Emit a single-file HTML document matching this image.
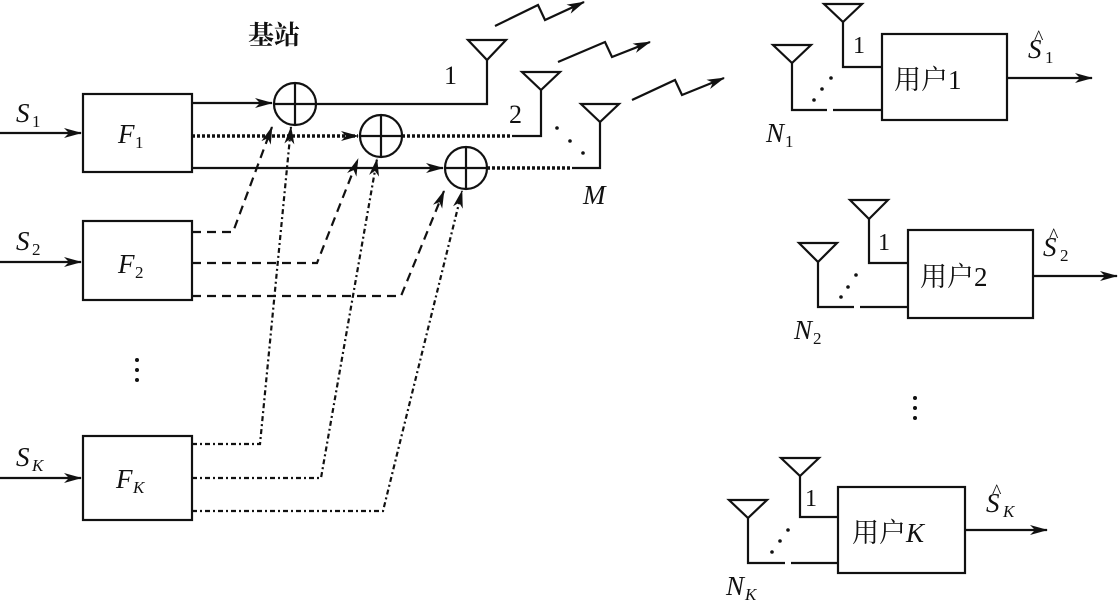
<!DOCTYPE html>
<html><head><meta charset="utf-8"><style>
body{margin:0;background:#fff}
svg{display:block}
text{font-family:"Liberation Serif","Noto Serif CJK SC",serif;fill:#111}
.i{font-style:italic}
</style></head><body>
<svg width="1119" height="603" viewBox="0 0 1119 603" xmlns="http://www.w3.org/2000/svg">
<defs>
<marker id="a" markerWidth="18" markerHeight="10" refX="17" refY="5" orient="auto" markerUnits="userSpaceOnUse">
<path d="M0,0 L18,5 L0,10 L5,5 z" fill="#111"/></marker>
</defs>
<g stroke="#111" stroke-width="2.2" fill="none">
<rect x="83" y="94" width="109" height="78"/>
<rect x="83" y="221" width="109" height="79"/>
<rect x="83" y="436" width="109" height="84"/>
<line x1="0" y1="133" x2="81" y2="133" marker-end="url(#a)"/>
<line x1="0" y1="262" x2="81" y2="262" marker-end="url(#a)"/>
<line x1="0" y1="478" x2="81" y2="478" marker-end="url(#a)"/>
<line x1="192" y1="103" x2="272" y2="103" marker-end="url(#a)"/>
<line x1="192" y1="136" x2="358" y2="136" stroke-dasharray="3,2" stroke-width="3.5" marker-end="url(#a)"/>
<line x1="192" y1="168" x2="443" y2="168" marker-end="url(#a)"/>
<circle cx="295" cy="104" r="21"/><line x1="274" y1="104" x2="316" y2="104"/><line x1="295" y1="83" x2="295" y2="125"/>
<circle cx="381" cy="136" r="21"/><line x1="360" y1="136" x2="402" y2="136"/><line x1="381" y1="115" x2="381" y2="157"/>
<circle cx="466" cy="168" r="21"/><line x1="445" y1="168" x2="487" y2="168"/><line x1="466" y1="147" x2="466" y2="189"/>
<polyline points="316,104 487,104 487,60"/>
<line x1="402" y1="136" x2="512" y2="136" stroke-dasharray="3,2" stroke-width="3.5"/>
<polyline points="512,136 541,136 541,90"/>
<line x1="487" y1="168" x2="572" y2="168" stroke-dasharray="3,2" stroke-width="3.5"/>
<polyline points="572,168 600,168 600,122"/>
<path d="M468,40 L506,40 L487,60 z"/>
<path d="M522,72 L560,72 L541,90 z"/>
<path d="M581,104 L619,104 L600,122 z"/>
<polyline points="495,26 538,5 545,20 584,2" marker-end="url(#a)"/>
<polyline points="558,62 605,42 612,57 650,42" marker-end="url(#a)"/>
<polyline points="632,100 675,80 682,95 724,78" marker-end="url(#a)"/>
<g stroke-dasharray="9,6">
<polyline points="192,232 233,232 272,127" marker-end="url(#a)"/>
<polyline points="192,263 317,263 358,159" marker-end="url(#a)"/>
<polyline points="192,296 401,296 444,191" marker-end="url(#a)"/>
</g>
<g stroke-dasharray="5,3,2,3">
<polyline points="192,444 260,444 291,127" marker-end="url(#a)"/>
<polyline points="192,478 321,478 377,159" marker-end="url(#a)"/>
<polyline points="192,511 383,511 462,191" marker-end="url(#a)"/>
</g>
<rect x="882" y="34" width="125" height="86"/>
<path d="M824,4 L862,4 L843,22 z"/>
<polyline points="843,22 843,67 882,67"/>
<path d="M773,45 L811,45 L792,63 z"/>
<polyline points="792,63 792,110 827,110"/><line x1="833" y1="110" x2="882" y2="110"/>
<line x1="1007" y1="78" x2="1092" y2="78" marker-end="url(#a)"/>
<rect x="908" y="230" width="125" height="88"/>
<path d="M850,200 L888,200 L869,219 z"/>
<polyline points="869,219 869,263 908,263"/>
<path d="M799,243 L837,243 L818,262 z"/>
<polyline points="818,262 818,307 854,307"/><line x1="860" y1="307" x2="908" y2="307"/>
<line x1="1033" y1="276" x2="1117" y2="276" marker-end="url(#a)"/>
<rect x="838" y="487" width="127" height="86"/>
<path d="M781,458 L819,458 L800,476 z"/>
<polyline points="800,476 800,517 838,517"/>
<path d="M729,500 L767,500 L748,518 z"/>
<polyline points="748,518 748,563 785,563"/><line x1="791" y1="563" x2="838" y2="563"/>
<line x1="965" y1="530" x2="1047" y2="530" marker-end="url(#a)"/>
</g>
<g fill="#111">
<circle cx="557" cy="128" r="1.8"/><circle cx="570" cy="141" r="1.8"/><circle cx="583" cy="153" r="1.8"/>
<circle cx="831" cy="78" r="1.8"/><circle cx="822" cy="89" r="1.8"/><circle cx="814" cy="100" r="1.8"/>
<circle cx="856" cy="275" r="1.8"/><circle cx="848" cy="287" r="1.8"/><circle cx="841" cy="297" r="1.8"/>
<circle cx="788" cy="530" r="1.8"/><circle cx="780" cy="541" r="1.8"/><circle cx="772" cy="552" r="1.8"/>
<circle cx="137" cy="360" r="2"/><circle cx="137" cy="370" r="2"/><circle cx="137" cy="380" r="2"/>
<circle cx="915" cy="398" r="2"/><circle cx="915" cy="408" r="2"/><circle cx="915" cy="418" r="2"/>
</g>
<text x="248" y="44" font-size="26" font-weight="bold">基站</text>
<text x="16" y="122" font-size="27" class="i">S</text><text x="32" y="127" font-size="17">1</text>
<text x="16" y="250" font-size="27" class="i">S</text><text x="32" y="255" font-size="17">2</text>
<text x="16" y="466" font-size="27" class="i">S</text><text x="32" y="471" font-size="17" class="i">K</text>
<text x="118" y="143" font-size="27" class="i">F</text><text x="135" y="148" font-size="17">1</text>
<text x="118" y="273" font-size="27" class="i">F</text><text x="135" y="278" font-size="17">2</text>
<text x="116" y="488" font-size="27" class="i">F</text><text x="133" y="493" font-size="17" class="i">K</text>
<text x="444" y="84" font-size="26">1</text>
<text x="509" y="123" font-size="26">2</text>
<text x="583" y="204" font-size="27" class="i">M</text>
<text x="853" y="53" font-size="24">1</text>
<text x="878" y="250" font-size="24">1</text>
<text x="805" y="506" font-size="24">1</text>
<text x="894" y="89" font-size="27">用户1</text>
<text x="920" y="286" font-size="27">用户2</text>
<text x="852" y="542" font-size="27">用户<tspan class="i">K</tspan></text>
<text x="766" y="142" font-size="27" class="i">N</text><text x="785" y="147" font-size="17">1</text>
<text x="794" y="339" font-size="27" class="i">N</text><text x="813" y="344" font-size="17">2</text>
<text x="726" y="595" font-size="27" class="i">N</text><text x="745" y="600" font-size="17" class="i">K</text>
<text x="1028" y="58" font-size="27" class="i">S</text><text x="1034" y="44" font-size="20">^</text><text x="1045" y="63" font-size="17">1</text>
<text x="1043" y="256" font-size="27" class="i">S</text><text x="1049" y="242" font-size="20">^</text><text x="1060" y="261" font-size="17">2</text>
<text x="986" y="512" font-size="27" class="i">S</text><text x="992" y="498" font-size="20">^</text><text x="1003" y="517" font-size="17" class="i">K</text>
</svg>
</body></html>
